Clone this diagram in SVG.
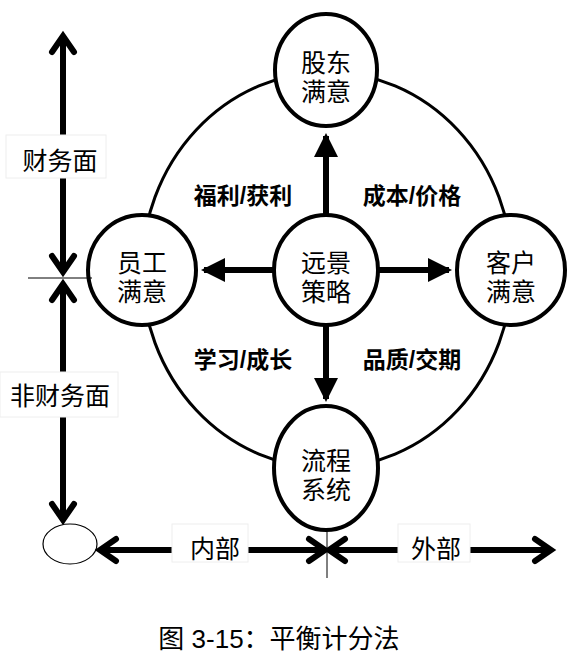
<svg xmlns="http://www.w3.org/2000/svg" width="571" height="662" viewBox="0 0 571 662">
<defs>
<style>
.node{fill:#fff;stroke:#000;stroke-width:4}
.ring{fill:none;stroke:#000;stroke-width:3}
.t{font-family:"Liberation Serif","Noto Sans CJK SC",serif;font-size:25px;fill:#000;text-anchor:middle}
.lab{font-family:"Liberation Sans","Noto Sans CJK SC",sans-serif;font-size:23px;font-weight:bold;fill:#000;text-anchor:middle}
.axl{font-family:"Liberation Serif","Noto Sans CJK SC",serif;font-size:25px;fill:#000;text-anchor:middle}
.shaft{stroke:#000;stroke-width:6;fill:none}
.chev{stroke:#000;stroke-width:6;fill:none;stroke-linecap:round;stroke-linejoin:miter}
.thin{stroke:#000;stroke-width:1;fill:none}
.box{fill:#fff;stroke:#eee;stroke-width:1}
</style>
<marker id="tri" markerWidth="4" markerHeight="4" refX="3.5" refY="2" orient="auto" markerUnits="strokeWidth">
<path d="M0,0 L4,2 L0,4 Z" fill="#000"/>
</marker>
</defs>
<rect width="571" height="662" fill="#fff"/>
<ellipse class="ring" cx="327" cy="270" rx="185" ry="198"/>
<g id="connectors">
<line class="shaft" x1="326" y1="215" x2="326" y2="136" marker-end="url(#tri)"/>
<line class="shaft" x1="326" y1="325" x2="326" y2="399" marker-end="url(#tri)"/>
<line class="shaft" x1="274" y1="270" x2="204" y2="270" marker-end="url(#tri)"/>
<line class="shaft" x1="379" y1="270" x2="449" y2="270" marker-end="url(#tri)"/>
</g>
<g id="labels">
<text class="lab" x="243" y="204">福利/获利</text>
<text class="lab" x="412" y="204">成本/价格</text>
<text class="lab" x="243" y="368">学习/成长</text>
<text class="lab" x="412" y="368">品质/交期</text>
</g>
<g id="n-top"><ellipse class="node" cx="326" cy="70" rx="51" ry="56"/><text class="t" x="326" y="72">股东</text><text class="t" x="326" y="101">满意</text></g>
<g id="n-center"><ellipse class="node" cx="326" cy="270" rx="52" ry="55"/><text class="t" x="326" y="272">远景</text><text class="t" x="326" y="301">策略</text></g>
<g id="n-left"><ellipse class="node" cx="142" cy="270" rx="54" ry="55"/><text class="t" x="142" y="272">员工</text><text class="t" x="142" y="301">满意</text></g>
<g id="n-right"><ellipse class="node" cx="511" cy="270" rx="54" ry="55"/><text class="t" x="511" y="272">客户</text><text class="t" x="511" y="301">满意</text></g>
<g id="n-bottom"><ellipse class="node" cx="326" cy="468" rx="52" ry="62"/><text class="t" x="326" y="470">流程</text><text class="t" x="326" y="499">系统</text></g>
<g id="axis-v">
<line class="shaft" x1="63" y1="36" x2="63" y2="272"/>
<polyline class="chev" points="52,52 63,36 74,52"/>
<polyline class="chev" points="52,256 63,272 74,256"/>
<line class="thin" x1="28" y1="278" x2="92" y2="278"/>
<line class="shaft" x1="63" y1="284" x2="63" y2="520"/>
<polyline class="chev" points="52,300 63,284 74,300"/>
<polyline class="chev" points="52,504 63,520 74,504"/>
<rect class="box" x="6" y="135" width="100" height="43"/>
<text class="axl" x="60" y="170">财务面</text>
<rect class="box" x="0" y="372" width="118" height="45"/>
<text class="axl" x="60" y="405">非财务面</text>
</g>
<g id="n-small"><ellipse fill="#fff" stroke="#000" stroke-width="1.2" cx="70" cy="544" rx="27" ry="20"/></g>
<g id="axis-h">
<line class="shaft" x1="100" y1="550" x2="325" y2="550"/>
<polyline class="chev" points="116,539 100,550 116,561"/>
<polyline class="chev" points="309,539 325,550 309,561"/>
<line class="shaft" x1="329" y1="550" x2="551" y2="550"/>
<polyline class="chev" points="345,539 329,550 345,561"/>
<polyline class="chev" points="535,539 551,550 535,561"/>
<line class="thin" x1="327" y1="530" x2="327" y2="578"/>
<rect class="box" x="172" y="524" width="76" height="38"/>
<text class="axl" x="215" y="558">内部</text>
<rect class="box" x="398" y="524" width="72" height="38"/>
<text class="axl" x="436" y="558">外部</text>
</g>
<text x="279" y="648" style="font-family:'Liberation Sans','Noto Sans CJK SC',sans-serif;font-size:26px;text-anchor:middle">图 3-15：平衡计分法</text>
</svg>
